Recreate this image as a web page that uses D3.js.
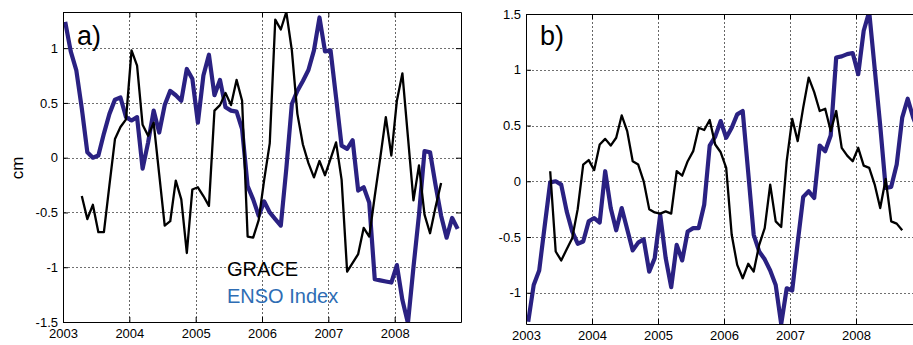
<!DOCTYPE html>
<html lang="en">
<head>
<meta charset="UTF-8">
<title>GRACE vs ENSO Index</title>
<script src="https://d3js.org/d3.v7.min.js"></script>
<style>
    body { margin: 0; background: #fff; }
    svg { display: block; font-family: "Liberation Sans", Arial, Helvetica, sans-serif; }
    .grid line.gx { stroke: #666; stroke-width: 1; stroke-dasharray: 2,2; shape-rendering: crispEdges; }
    .grid rect.gy { shape-rendering: crispEdges; }
    .axis path, .axis line { stroke: #000; stroke-width: 1; }
    .axis text { font-size: 13px; fill: #000; }
    .enso { fill: none; stroke: #2a2182; stroke-width: 4.2; stroke-linejoin: round; }
    .grace { fill: none; stroke: #000; stroke-width: 2.3; stroke-linejoin: round; }
</style>
</head>
<body>
<svg id="chart" width="913" height="345"></svg>
<script>
    // tick labels
    var yearTicks = [2003, 2004, 2005, 2006, 2007, 2008];
    var yTicksA = [-1.5, -1, -0.5, 0, 0.5, 1];
    var yTicksB = [-1, -0.5, 0, 0.5, 1, 1.5];

    // monthly values, month 0 = Jan 2003
    var ensoA = [
        1.24, 0.97, 0.80, 0.45, 0.05, 0.00, 0.02, 0.22, 0.40, 0.53, 0.55, 0.37,
        0.34, 0.37, -0.10, 0.14, 0.43, 0.23, 0.48, 0.61, 0.57, 0.52, 0.81, 0.72,
        0.32, 0.75, 0.94, 0.57, 0.71, 0.46, 0.43, 0.42, 0.26, -0.26, -0.38, -0.53,
        -0.40, -0.50, -0.56, -0.62, -0.10, 0.49, 0.61, 0.70, 0.80, 0.98, 1.28, 0.97,
        0.98, 0.55, 0.11, 0.08, 0.16, -0.30, -0.27, -0.41, -1.11, -1.12, -1.13, -1.14,
        -0.98, -1.30, -1.51, -1.00, -0.52, 0.06, 0.05, -0.25, -0.53, -0.73, -0.55, -0.65
    ];
    var graceAStart = 3;
    var graceA = [
        -0.35, -0.56, -0.43, -0.68, -0.68, -0.25, 0.17, 0.28, 0.35,
        0.98, 0.84, 0.30, 0.20, 0.32, -0.15, -0.62, -0.58, -0.21, -0.38, -0.87, -0.29,
        -0.27, -0.35, -0.44, 0.43, 0.48, 0.59, 0.48, 0.71, 0.52, -0.72, -0.73, -0.57,
        -0.20, 0.13, 1.26, 1.17, 1.33, 0.98, 0.40, 0.12, -0.05, -0.18, -0.03, -0.16,
        -0.01, 0.14, -0.20, -1.04, -0.96, -0.88, -0.64, -0.72, -0.35, 0.00, 0.37, 0.02,
        0.52, 0.77, 0.19, -0.39, -0.07, -0.52, -0.69, -0.45, -0.23
    ];

    var ensoB = [
        -1.26, -0.93, -0.80, -0.40, -0.01, 0.00, -0.03, -0.27, -0.45, -0.56, -0.54, -0.36,
        -0.33, -0.37, 0.09, -0.24, -0.44, -0.24, -0.43, -0.62, -0.55, -0.52, -0.81, -0.69,
        -0.30, -0.69, -0.95, -0.57, -0.71, -0.45, -0.42, -0.42, -0.21, 0.32, 0.40, 0.54,
        0.39, 0.48, 0.60, 0.63, 0.08, -0.48, -0.63, -0.70, -0.80, -0.93, -1.28, -0.96,
        -0.98, -0.55, -0.14, -0.09, -0.15, 0.32, 0.27, 0.41, 1.11, 1.12, 1.14, 1.15,
        0.96, 1.35, 1.52, 1.01, 0.50, -0.06, -0.05, 0.15, 0.57, 0.74, 0.57, 0.45
    ];
    var graceBStart = 4;
    var graceB = [
        0.09, -0.63, -0.71, -0.61, -0.51, -0.25, 0.15, 0.19,
        0.10, 0.33, 0.38, 0.32, 0.39, 0.59, 0.45, 0.18, 0.15, 0.00, -0.25, -0.28,
        -0.29, -0.27, -0.29, 0.09, 0.05, 0.18, 0.27, 0.48, 0.46, 0.55, 0.33, 0.26,
        0.12, -0.48, -0.75, -0.87, -0.74, -0.81, -0.57, -0.42, -0.03, -0.36, -0.41, 0.18,
        0.56, 0.36, 0.66, 0.93, 0.80, 0.63, 0.65, 0.45, 0.63, 0.30, 0.23, 0.18,
        0.30, 0.14, 0.12, -0.03, -0.24, 0.02, -0.36, -0.38, -0.44
    ];

    function toSeries(values, start) {
        return values.map(function(v, i) {
            return { t: 2003 + (start + i + 0.4) / 12, v: v };
        });
    }

    var panels = [
        { name: "a", label: "a)", left: 63, right: 461, top: 12, bottom: 322,
          yDomain: [-1.5, 1.33], yTicks: yTicksA,
          enso: toSeries(ensoA, 0), grace: toSeries(graceA, graceAStart) },
        { name: "b", label: "b)", left: 526, right: 922, top: 14, bottom: 324,
          yDomain: [-1.28, 1.5], yTicks: yTicksB,
          enso: toSeries(ensoB, 0), grace: toSeries(graceB, graceBStart) }
    ];

    var svg = d3.select("#chart");

    // dotted fill for the horizontal grid lines
    var pat = svg.append("defs").append("pattern")
        .attr("id", "dotsH")
        .attr("patternUnits", "userSpaceOnUse")
        .attr("width", 4).attr("height", 2);
    pat.append("rect").attr("width", 2).attr("height", 2).attr("fill", "#707070");

    panels.forEach(function(p) {
        var x = d3.scaleLinear().domain([2003, 2009]).range([p.left, p.right]);
        var y = d3.scaleLinear().domain(p.yDomain).range([p.bottom, p.top]);
        var g = svg.append("g");

        // dotted grid
        var grid = g.append("g").attr("class", "grid");
        grid.selectAll("line.gx")
            .data(yearTicks)
            .enter().append("line")
            .attr("class", "gx")
            .attr("x1", function(d) { return Math.round(x(d)) + 0.5; })
            .attr("x2", function(d) { return Math.round(x(d)) + 0.5; })
            .attr("y1", p.top)
            .attr("y2", p.bottom);
        grid.selectAll("rect.gy")
            .data(p.yTicks)
            .enter().append("rect")
            .attr("class", "gy")
            .attr("x", p.left)
            .attr("width", p.right - p.left)
            .attr("y", function(d) { return Math.round(y(d)); })
            .attr("height", 1)
            .attr("fill", "url(#dotsH)");

        g.append("clipPath")
            .attr("id", "clip-" + p.name)
            .append("rect")
            .attr("x", p.left).attr("y", p.top)
            .attr("width", p.right - p.left).attr("height", p.bottom - p.top);

        var line = d3.line()
            .x(function(d) { return x(d.t); })
            .y(function(d) { return y(d.v); });

        var lines = g.append("g").attr("clip-path", "url(#clip-" + p.name + ")");
        lines.append("path").datum(p.enso).attr("class", "enso").attr("d", line);
        lines.append("path").datum(p.grace).attr("class", "grace").attr("d", line);

        // box with inward ticks
        g.append("g")
            .attr("class", "axis")
            .attr("transform", "translate(0," + p.bottom + ")")
            .call(d3.axisBottom(x).tickValues(yearTicks).tickSizeInner(-5).tickSizeOuter(0)
                .tickPadding(7).tickFormat(d3.format("d")));
        g.append("g")
            .attr("class", "axis")
            .attr("transform", "translate(0," + p.top + ")")
            .call(d3.axisTop(x).tickValues(yearTicks).tickSizeInner(-5).tickSizeOuter(0).tickFormat(""));
        g.append("g")
            .attr("class", "axis")
            .attr("transform", "translate(" + p.left + ",0)")
            .call(d3.axisLeft(y).tickValues(p.yTicks).tickSizeInner(-5).tickSizeOuter(0)
                .tickPadding(5).tickFormat(function(d) { return String(d); }));
        g.append("g")
            .attr("class", "axis")
            .attr("transform", "translate(" + p.right + ",0)")
            .call(d3.axisRight(y).tickValues(p.yTicks).tickSizeInner(-5).tickSizeOuter(0).tickFormat(""));

        g.append("text")
            .attr("x", p.left + 14)
            .attr("y", 45)
            .style("font-size", "27px")
            .text(p.label);
    });

    // y label
    svg.append("text")
        .attr("transform", "translate(23,168) rotate(-90)")
        .attr("text-anchor", "middle")
        .style("font-size", "17px")
        .text("cm");

    // legend
    svg.append("text")
        .attr("x", 227).attr("y", 276)
        .style("font-size", "20px")
        .attr("fill", "#000")
        .text("GRACE");
    svg.append("text")
        .attr("x", 227).attr("y", 303)
        .style("font-size", "20px")
        .attr("fill", "#2e6db4")
        .text("ENSO Index");
</script>
</body>
</html>
